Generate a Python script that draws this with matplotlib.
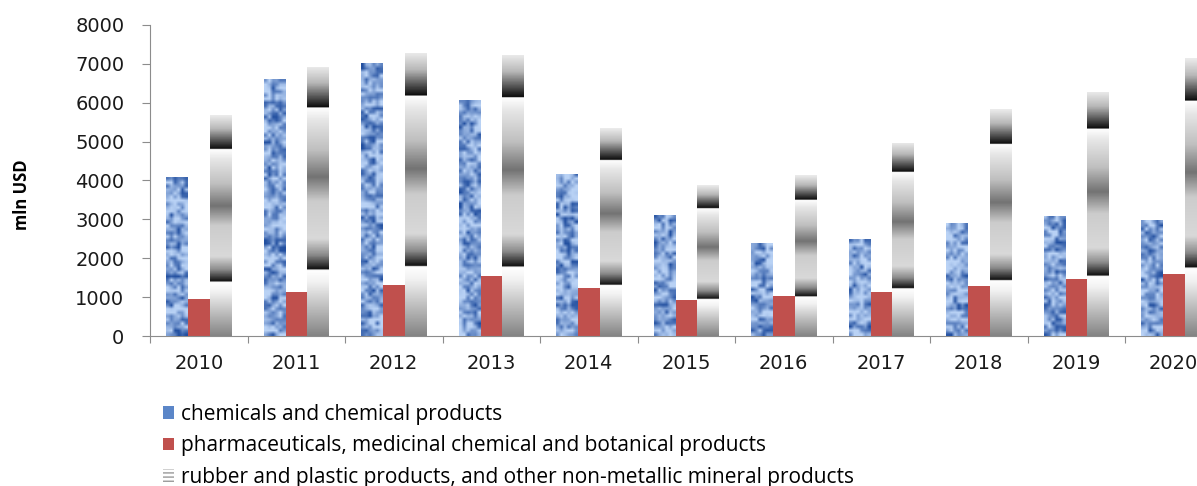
import numpy as np
import matplotlib
matplotlib.use("Agg")
import matplotlib.pyplot as plt
from matplotlib.colors import LinearSegmentedColormap
from matplotlib.patches import Patch

years = ["2010", "2011", "2012", "2013", "2014", "2015", "2016", "2017", "2018", "2019", "2020"]
chemicals = [4080, 6610, 7010, 6070, 4180, 3110, 2390, 2490, 2900, 3090, 2980]
pharma = [940, 1120, 1310, 1540, 1240, 930, 1030, 1120, 1290, 1470, 1590]
rubber = [5680, 6920, 7280, 7230, 5340, 3880, 4140, 4970, 5830, 6280, 7140]
series_names = ["chemicals and chemical products",
                "pharmaceuticals, medicinal chemical and botanical products",
                "rubber and plastic products, and other non-metallic mineral products"]

W, H = 1197, 486
fig = plt.figure(figsize=(W / 100, H / 100), dpi=100)
ax_left = 150 / W
ax_bottom = 1 - 336 / H
ax_h = (336 - 25) / H
ax_w = 11 * 97.5 / W
ax = fig.add_axes([ax_left, ax_bottom, ax_w, ax_h])

x = np.arange(len(years))
bw = 0.222
b1 = ax.bar(x - bw, chemicals, bw, color="#6f98d4", zorder=2)
b2 = ax.bar(x, pharma, bw, color="#C0504D", zorder=2)
b3 = ax.bar(x + bw, rubber, bw, color="#bbbbbb", zorder=2)

# gradient for rubber bars (top -> bottom)
prof = [(0.00, 0.92), (0.06, 0.72), (0.15, 0.05), (0.152, 1.0), (0.20, 0.90),
        (0.31, 0.75), (0.41, 0.45), (0.50, 0.80), (0.64, 0.85), (0.70, 0.55),
        (0.755, 0.05), (0.757, 1.0), (0.80, 0.95), (1.00, 0.52)]
gcmap = LinearSegmentedColormap.from_list("g", [(p, (v, v, v)) for p, v in prof])
grad = np.linspace(0, 1, 600).reshape(-1, 1)
for bar in b3:
    x0, w, h = bar.get_x(), bar.get_width(), bar.get_height()
    im = ax.imshow(grad, cmap=gcmap, vmin=0, vmax=1, extent=[x0, x0 + w, 0, h],
                   aspect="auto", interpolation="bilinear", zorder=3, origin="upper")
    im.set_clip_path(bar)

# blue mottled texture for chemicals bars (deterministic hash noise)
def hashnoise(i, j, s):
    v = np.sin(i * 12.9898 + j * 78.233 + s * 37.719) * 43758.5453
    return v - np.floor(v)

light = np.array([185, 210, 245]) / 255
dark = np.array([35, 80, 160]) / 255
for k, bar in enumerate(b1):
    x0, w, h = bar.get_x(), bar.get_width(), bar.get_height()
    hpx = h / 8000 * 311
    nx, ny = 6, max(int(hpx / 3.6), 2)
    jj, ii = np.meshgrid(np.arange(nx), np.arange(ny))
    n = 0.6 * hashnoise(ii, jj, k) + 0.4 * hashnoise(ii // 2, jj // 2, k + 50)
    n = np.clip((n - 0.12) / 0.6, 0, 1)
    img = dark[None, None, :] * (1 - n[..., None]) + light[None, None, :] * n[..., None]
    im = ax.imshow(img, extent=[x0, x0 + w, 0, h], aspect="auto",
                   interpolation="bilinear", zorder=3, origin="upper")
    im.set_clip_path(bar)

ax.set_xlim(-0.5, len(years) - 0.5)
ax.set_ylim(0, 8000)
ax.set_yticks(np.arange(0, 8001, 1000))
ax.set_xticks(np.arange(len(years) + 1) - 0.5)
ax.set_xticklabels([])
ax.set_xticks(x, minor=True)
ax.set_xticklabels(years, minor=True)
for s in ["top", "right"]:
    ax.spines[s].set_visible(False)
for s in ["left", "bottom"]:
    ax.spines[s].set_color("#8c8c8c")
ax.tick_params(axis="y", direction="out", length=6, color="#8c8c8c", labelsize=14,
               labelcolor="#1a1a1a", pad=12.5)
ax.tick_params(axis="x", which="major", direction="out", length=5, color="#8c8c8c")
ax.tick_params(axis="x", which="minor", length=0, labelsize=14, labelcolor="#1a1a1a", pad=13)

fig.text(22 / W, 1 - 195 / H, "mln USD", rotation=90, ha="center", va="center",
         fontsize=12, fontweight="bold", family="Open Sans")

handles = [Patch(facecolor="#5b86c8", edgecolor="none"),
           Patch(facecolor="#C0504D", edgecolor="none"),
           Patch(facecolor="white", edgecolor="#999999", hatch="----", linewidth=0)]
fig.legend(handles, series_names, loc="upper left", bbox_to_anchor=(163 / W, 1 - 404 / H),
           frameon=False, prop={"family": "Open Sans", "size": 15},
           handlelength=0.55, handleheight=0.55, handletextpad=0.3, labelspacing=0.5,
           borderaxespad=0, borderpad=0)

fig.savefig("out.png", dpi=100)
